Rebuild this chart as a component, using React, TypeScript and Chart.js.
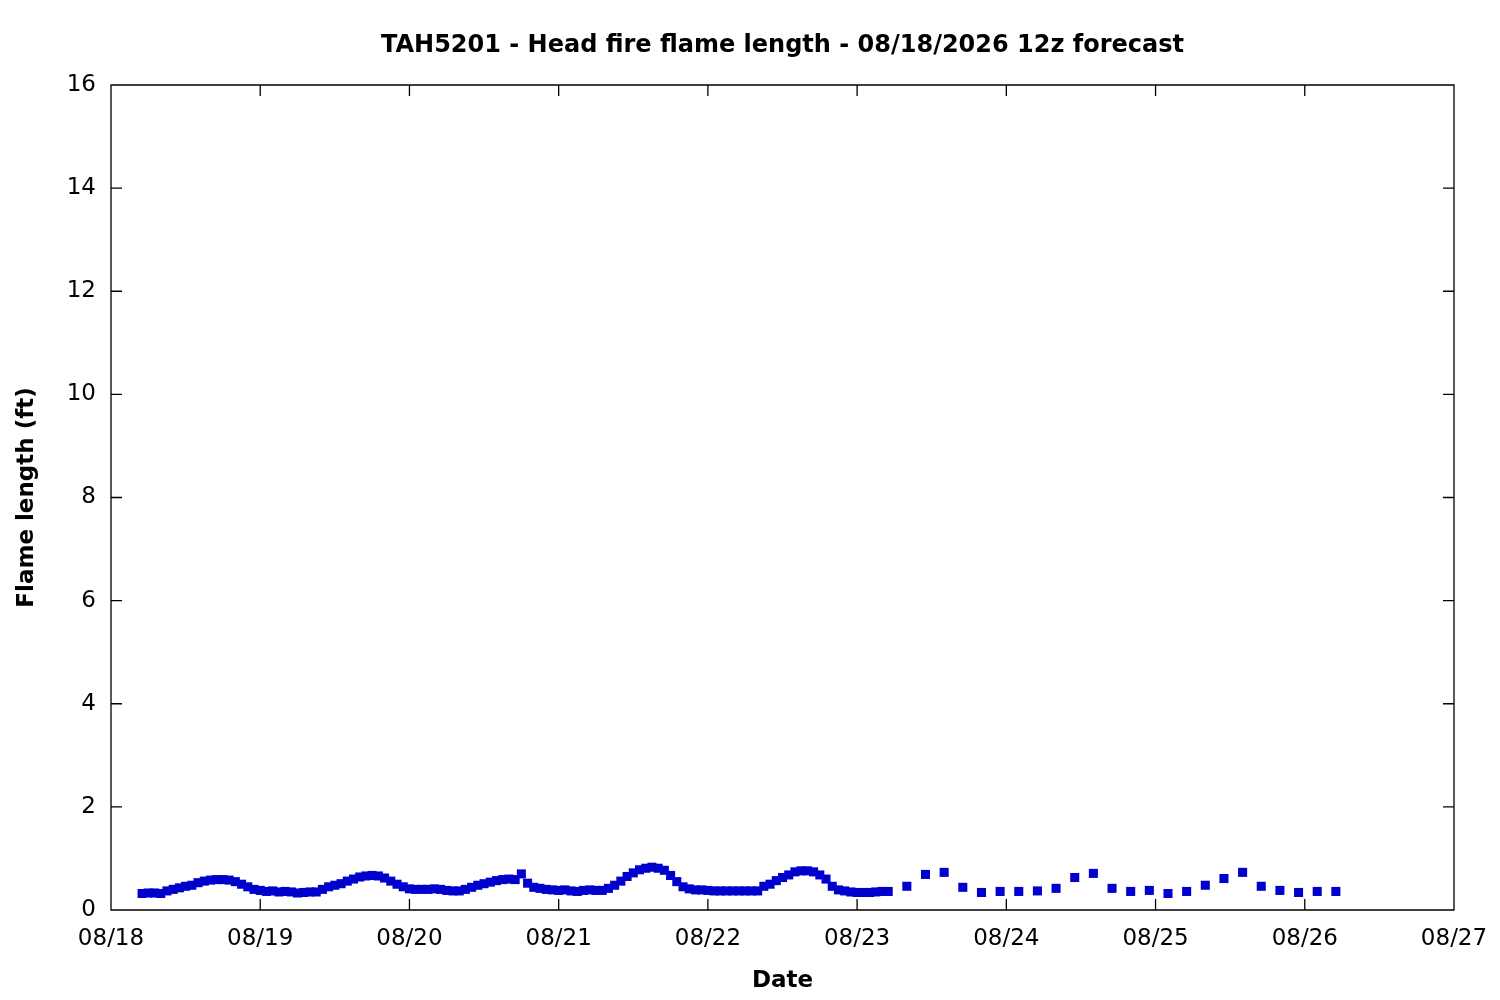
import React, { useEffect, useRef } from 'react';
import { Chart, registerables } from 'chart.js';

Chart.register(...registerables);

const TITLE = 'TAH5201 - Head fire flame length - 08/18/2026 12z forecast';
const X_TITLE = 'Date';
const Y_TITLE = 'Flame length (ft)';

const dayLabels = ['08/18', '08/19', '08/20', '08/21', '08/22', '08/23', '08/24', '08/25', '08/26', '08/27'];
const yTickValues = [0, 2, 4, 6, 8, 10, 12, 14, 16];

// hours since 08/18 00z
const hoursFromStart = [
  5, 6, 7, 8, 9, 10, 11, 12, 13, 14, 15, 16, 17, 18, 19, 20, 21, 22, 23,
  24, 25, 26, 27, 28, 29, 30, 31, 32, 33, 34, 35, 36, 37, 38, 39, 40, 41, 42, 43, 44, 45, 46, 47,
  48, 49, 50, 51, 52, 53, 54, 55, 56, 57, 58, 59, 60, 61, 62, 63, 64, 65, 66, 67, 68, 69, 70, 71,
  72, 73, 74, 75, 76, 77, 78, 79, 80, 81, 82, 83, 84, 85, 86, 87, 88, 89, 90, 91, 92, 93, 94, 95,
  96, 97, 98, 99, 100, 101, 102, 103, 104, 105, 106, 107, 108, 109, 110, 111, 112, 113, 114, 115, 116, 117, 118, 119,
  120, 121, 122, 123, 124, 125,
  128, 131, 134, 137, 140, 143, 146, 149, 152, 155, 158, 161, 164, 167, 170, 173, 176, 179, 182, 185, 188, 191, 194, 197,
];

const flameLengthFt = [
  0.32, 0.33, 0.33, 0.32, 0.37, 0.40, 0.43, 0.46, 0.48, 0.53, 0.56, 0.58, 0.59, 0.59, 0.58, 0.55, 0.50, 0.45, 0.40,
  0.38, 0.36, 0.37, 0.35, 0.36, 0.35, 0.33, 0.34, 0.35, 0.35, 0.40, 0.45, 0.48, 0.51, 0.56, 0.60, 0.64, 0.66, 0.67, 0.66, 0.62, 0.56, 0.50, 0.45,
  0.41, 0.40, 0.40, 0.40, 0.41, 0.40, 0.38, 0.37, 0.37, 0.40, 0.44, 0.48, 0.51, 0.54, 0.57, 0.59, 0.60, 0.59, 0.70, 0.52, 0.44, 0.42, 0.40, 0.39,
  0.38, 0.39, 0.37, 0.36, 0.38, 0.39, 0.38, 0.38, 0.42, 0.48, 0.56, 0.65, 0.72, 0.78, 0.81, 0.83, 0.81, 0.77, 0.67, 0.55, 0.45, 0.41, 0.39, 0.39,
  0.38, 0.37, 0.37, 0.37, 0.37, 0.37, 0.37, 0.37, 0.37, 0.46, 0.50, 0.57, 0.63, 0.68, 0.74, 0.76, 0.76, 0.74, 0.68, 0.60, 0.46, 0.39, 0.37, 0.35,
  0.34, 0.34, 0.34, 0.35, 0.36, 0.36,
  0.46, 0.69, 0.73, 0.44, 0.34, 0.36, 0.36, 0.37, 0.42, 0.63, 0.71, 0.42, 0.36, 0.38, 0.32, 0.36, 0.48, 0.61, 0.73, 0.46, 0.38, 0.34, 0.36, 0.36,
];

const FONT = 'DejaVu Sans, sans-serif';

const framePlugin = {
  id: 'gnuplotFrame',
  afterDraw(chart: any) {
    const { ctx, chartArea } = chart;
    const { left, right, top, bottom } = chartArea;
    const xs = chart.scales.x;
    const ys = chart.scales.y;
    const tl = 11;
    ctx.save();
    ctx.strokeStyle = '#000';
    ctx.lineWidth = 1.3;
    ctx.beginPath();
    ctx.rect(left, top, right - left, bottom - top);
    ctx.stroke();
    ctx.beginPath();
    xs.ticks.forEach((t: any) => {
      const px = xs.getPixelForValue(t.value);
      if (px <= left + 1 || px >= right - 1) return;
      ctx.moveTo(px, bottom);
      ctx.lineTo(px, bottom - tl);
      ctx.moveTo(px, top);
      ctx.lineTo(px, top + tl);
    });
    ys.ticks.forEach((t: any) => {
      const py = ys.getPixelForValue(t.value);
      if (py <= top + 1 || py >= bottom - 1) return;
      ctx.moveTo(left, py);
      ctx.lineTo(left + tl, py);
      ctx.moveTo(right, py);
      ctx.lineTo(right - tl, py);
    });
    ctx.stroke();
    ctx.restore();
  },
};

export default function App() {
  const ref = useRef<HTMLCanvasElement | null>(null);

  useEffect(() => {
    if (!ref.current) return;
    const points = hoursFromStart.map((h, i) => ({ x: h, y: flameLengthFt[i] }));
    const chart = new Chart(ref.current, {
      type: 'scatter',
      data: {
        datasets: [
          {
            data: points,
            pointStyle: 'rect',
            pointRadius: 6.4,
            pointHoverRadius: 6.4,
            pointBackgroundColor: '#0000cc',
            pointBorderColor: '#0000cc',
            pointBorderWidth: 0,
            showLine: false,
          } as any,
        ],
      },
      options: {
        animation: false,
        responsive: false,
        devicePixelRatio: 1,
        events: [],
        layout: { padding: { left: 0, right: 46, top: 0, bottom: 0 } },
        plugins: {
          legend: { display: false },
          tooltip: { enabled: false },
          title: {
            display: true,
            fullSize: false,
            text: TITLE,
            color: '#000',
            font: { family: FONT, size: 24, weight: 'bold' },
            padding: { top: 31, bottom: 25.2 },
          },
        },
        scales: {
          x: {
            type: 'linear',
            min: 0,
            max: 216,
            afterBuildTicks: (s: any) => {
              s.ticks = dayLabels.map((_, i) => ({ value: i * 24 }));
            },
            afterFit: (s: any) => {
              s.height = 90;
              s.paddingLeft = 0;
              s.paddingRight = 0;
            },
            ticks: {
              callback: (_v: any, i: number) => dayLabels[i],
              color: '#000',
              font: { family: FONT, size: 23 },
              padding: 15,
              maxRotation: 0,
              autoSkip: false,
            },
            grid: { display: false, drawTicks: false },
            border: { display: false },
            title: {
              display: true,
              text: X_TITLE,
              color: '#000',
              font: { family: FONT, size: 23, weight: 'bold' },
              padding: { top: 5, bottom: 5 },
            },
          },
          y: {
            type: 'linear',
            min: 0,
            max: 16,
            afterBuildTicks: (s: any) => {
              s.ticks = yTickValues.map((v) => ({ value: v }));
            },
            afterFit: (s: any) => {
              s.width = 111;
            },
            ticks: {
              callback: (v: any) => String(v),
              color: '#000',
              font: { family: FONT, size: 23 },
              padding: 15,
            },
            grid: { display: false, drawTicks: false },
            border: { display: false },
            title: {
              display: true,
              text: Y_TITLE,
              color: '#000',
              font: { family: FONT, size: 23, weight: 'bold' },
              padding: { top: 13, bottom: 13 },
            },
          },
        },
      },
      plugins: [framePlugin],
    });
    return () => chart.destroy();
  }, []);

  return (
    <div style={{ position: 'absolute', left: 0, top: 0, width: 1500, height: 1000, background: '#fff' }}>
      <canvas ref={ref} width={1500} height={1000} style={{ width: 1500, height: 1000, display: 'block' }} />
    </div>
  );
}
